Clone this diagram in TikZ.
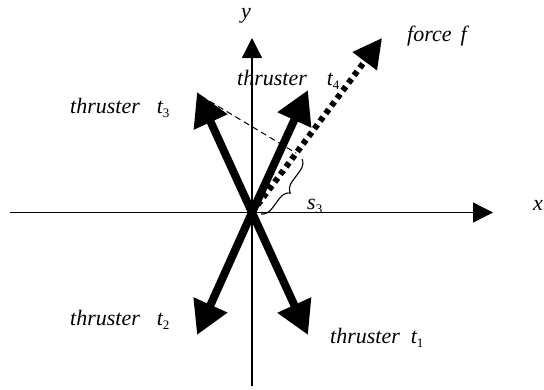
\documentclass[tikz,border=0pt]{standalone}
\usepackage{fontspec}
\setmainfont{Liberation Serif}
\usetikzlibrary{arrows.meta,decorations.pathreplacing,calc}
\newcommand{\sbs}[1]{\raisebox{-4pt}{\fontsize{13}{13}\selectfont\upshape #1}}
\tikzset{
  lbl/.style={inner sep=0pt, anchor=base west, font=\fontsize{22}{26}\selectfont\itshape},
  axis/.style={line width=1.4pt, -{Triangle[length=20pt,width=20pt]}},
  thrust/.style={line width=8pt, -{Triangle[length=33pt,width=35pt]}},
  forcearrow/.style={line width=6pt, dash pattern=on 5pt off 4.5pt, -{Triangle[length=29pt,width=29pt]}},
  proj/.style={line width=1pt, dash pattern=on 6pt off 4pt},
  bracestyle/.style={line width=1.1pt, decorate, decoration={brace, amplitude=11pt}}
}
\begin{document}
\begin{tikzpicture}[x=1pt,y=-1pt]
\useasboundingbox (0,0) rectangle (544,389);
% axes
\coordinate (O) at (252,212.5);
\coordinate (xl) at (10,212.5);
\coordinate (xr) at (493,212.5);
\coordinate (yb) at (252,386);
\coordinate (yt) at (252,38);
\draw[axis] (xl) -- (xr);
\draw[axis] (yb) -- (yt);
% thrusters
\coordinate (T1) at (308,335);
\coordinate (T2) at (197,335);
\coordinate (T3) at (197,92);
\coordinate (T4) at (308,90);
\draw[thrust] (O) -- (T1);
\draw[thrust] (O) -- (T2);
\draw[thrust] (O) -- (T3);
\draw[thrust] (O) -- (T4);
% force
\coordinate (F) at (382,38);
\draw[forcearrow] (O) -- (F);
% projection
\coordinate (P) at ($(O)!0.34!(F)$);
\coordinate (Q) at (201,96);
\draw[proj] (Q) -- (P);
% brace
\coordinate (B1) at (302,159);
\coordinate (B2) at (261,214);
\draw[bracestyle] (B1) -- (B2);
% labels
\node[lbl] (ly) at (241,18) {y};
\node[lbl] (lx) at (533,210) {x};
\node[lbl] (ls) at (307,209) {s\sbs{3}};
\node[lbl] (l1) at (330,343) {thruster\hspace{11pt}t\sbs{1}};
\node[lbl] (l2) at (70,325) {thruster\hspace{17pt}t\sbs{2}};
\node[lbl] (l3) at (70,113) {thruster\hspace{17pt}t\sbs{3}};
\node[lbl] (l4) at (237,85) {thruster\hspace{20pt}t\sbs{4}};
\node[lbl] (lf) at (407,41) {force\hspace{9pt}f};
\end{tikzpicture}
\end{document}
